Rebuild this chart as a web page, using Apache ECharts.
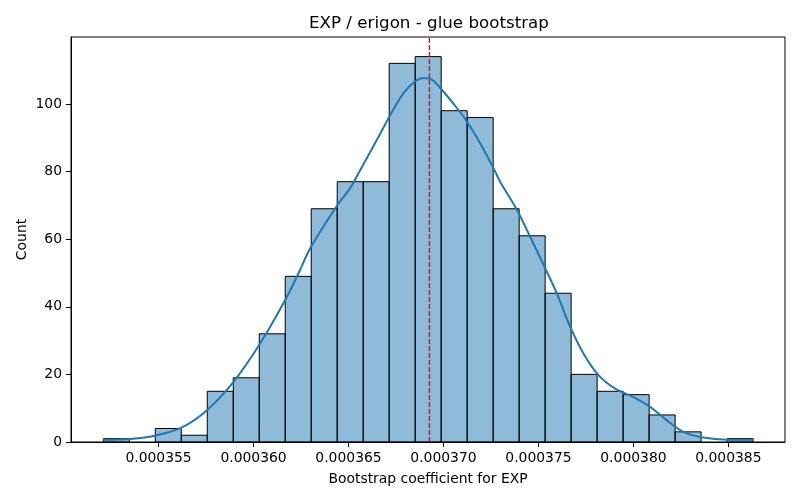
<!DOCTYPE html>
<html>
<head>
<meta charset="utf-8">
<title>EXP / erigon - glue bootstrap</title>
<script src="https://cdn.jsdelivr.net/npm/echarts@6.0.0/dist/echarts.min.js"></script>
<style>
  html, body { margin: 0; padding: 0; background: #fff; }
  #chart { width: 800px; height: 500px; }
</style>
</head>
<body>
<div id="chart"></div>
<script>
// histogram bins
const binStart = 0.00035209
const binWidth = 0.0000013684
const binCounts = [1, 0, 4, 2, 15, 19, 32, 49, 69, 77, 77, 112, 114, 98, 96, 69, 61, 44, 20, 15, 14, 8, 3, 0, 1]

// kde curve, traced points
const kdeX = [
  0.000352074, 0.000353511, 0.000354916, 0.000356232, 0.000357547, 0.000358947,
  0.000360353, 0.000361668, 0.000362368, 0.000362984, 0.000364389, 0.000365090,
  0.000365526, 0.000366495, 0.000367158, 0.000367895, 0.000368511, 0.000368947,
  0.000369389, 0.000369916, 0.000370705, 0.000371232, 0.000371932, 0.000372632,
  0.000372984, 0.000373863, 0.000374563, 0.000375353, 0.000375968, 0.000376668,
  0.000377368, 0.000378158, 0.000379037, 0.000380000, 0.000380879, 0.000381758,
  0.000382632, 0.000383684, 0.000384916, 0.000386300
]
const kdeY = [
  0.7, 0.9, 2.0, 4.3, 9.4, 17.8,
  29.2, 42.0, 49.9, 57.3, 69.9, 75.1,
  79.5, 89.4, 96.3, 103.2, 106.7, 107.7,
  107.2, 104.2, 98.8, 94.8, 88.4, 81.0,
  77.0, 68.7, 60.7, 51.4, 44.0, 34.1,
  26.2, 19.8, 15.8, 13.3, 10.4, 6.4,
  3.0, 1.3, 0.7, 0.7
]

const meanLine = 0.00036926
const xTicks = [0.000355, 0.000360, 0.000365, 0.000370, 0.000375, 0.000380, 0.000385]
const yTicks = [0, 20, 40, 60, 80, 100]
const xMin = 0.00035039
const xMax = 0.00038798
const yMax = 119.8

const font = 'DejaVu Sans'
const chart = echarts.init(document.getElementById('chart'), null, { renderer: 'canvas' })

const bins = binCounts.map((c, i) => [binStart + i * binWidth, binStart + (i + 1) * binWidth, c])

const option = {
  animation: false,
  backgroundColor: '#fff',
  title: {
    text: 'EXP / erigon - glue bootstrap',
    left: 309,
    top: 15,
    padding: 0,
    textStyle: { fontFamily: font, fontSize: 16.7, fontWeight: 'normal', color: '#000' }
  },
  grid: {
    left: 71, right: 15, top: 37, bottom: 58,
    show: true, borderColor: '#000', borderWidth: 1,
    containLabel: false
  },
  xAxis: {
    type: 'value',
    min: xMin,
    max: xMax,
    name: 'Bootstrap coefficient for EXP',
    nameLocation: 'middle',
    nameGap: 30,
    nameMoveOverlap: false,
    nameTextStyle: { fontFamily: font, fontSize: 13.9, color: '#000' },
    axisLine: { show: true, onZero: false, lineStyle: { color: '#000', width: 1 } },
    axisTick: { show: true, length: 5, lineStyle: { color: '#000', width: 1 }, customValues: xTicks },
    axisLabel: {
      fontFamily: font, fontSize: 13.9, color: '#000', margin: 9,
      customValues: xTicks,
      formatter: v => v.toFixed(6)
    },
    splitLine: { show: false }
  },
  yAxis: {
    type: 'value',
    min: 0,
    max: yMax,
    name: 'Count',
    nameLocation: 'middle',
    nameGap: 42,
    nameMoveOverlap: false,
    nameTextStyle: { fontFamily: font, fontSize: 13.9, color: '#000' },
    axisLine: { show: true, lineStyle: { color: '#000', width: 1 } },
    axisTick: { show: true, length: 5, lineStyle: { color: '#000', width: 1 }, customValues: yTicks },
    axisLabel: { fontFamily: font, fontSize: 13.9, color: '#000', margin: 9, customValues: yTicks },
    splitLine: { show: false }
  },
  series: [
    {
      type: 'custom',
      name: 'hist',
      data: bins,
      encode: { x: [0, 1], y: 2 },
      renderItem: (params, api) => {
        const c = api.value(2)
        if (!c) return null
        const p0 = api.coord([api.value(0), 0])
        const p1 = api.coord([api.value(1), c])
        return {
          type: 'rect',
          shape: { x: p0[0], y: p1[1], width: p1[0] - p0[0], height: p0[1] - p1[1] },
          style: { fill: 'rgba(31,119,180,0.5)', stroke: '#000', lineWidth: 1 }
        }
      },
      z: 2
    },
    {
      type: 'line',
      name: 'kde',
      data: kdeX.map((x, i) => [x, kdeY[i]]),
      smooth: 0.3,
      showSymbol: false,
      lineStyle: { color: '#1f77b4', width: 2 },
      z: 3
    },
    {
      type: 'line',
      name: 'mean',
      data: [[meanLine, 0], [meanLine, yMax]],
      showSymbol: false,
      lineStyle: { color: '#ff0000', width: 1.4, type: [5, 2] },
      z: 4
    }
  ]
}

chart.setOption(option)
</script>
</body>
</html>
